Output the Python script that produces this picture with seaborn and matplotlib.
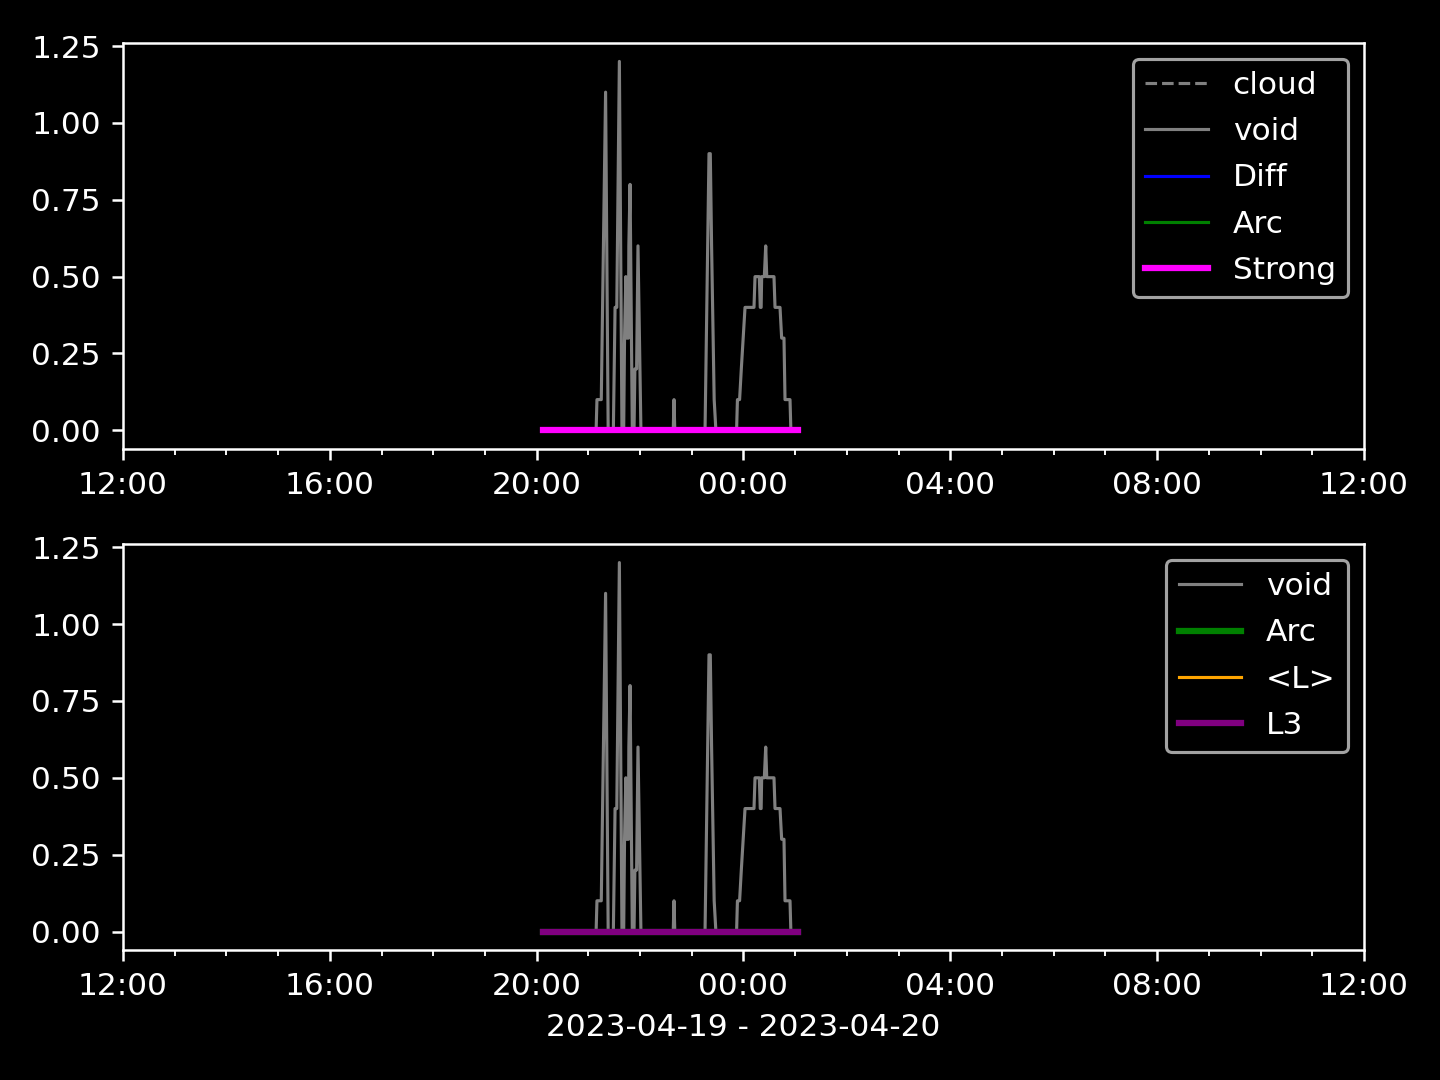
import numpy as np
import pandas as pd
import matplotlib
matplotlib.use("Agg")
import matplotlib.pyplot as plt
import matplotlib.dates as mdates
import seaborn as sns

plt.style.use('dark_background')

# minutes after 2023-04-19 20:00
void_minutes = [7.5, 69, 70, 75, 80, 83, 89, 91, 93, 96, 99,
                101, 102, 103.5, 104.5, 106.5, 107, 108.4, 111,
                113, 114, 116, 117.6, 121,
                158.5, 159.4, 160.3,
                195.4, 200, 201.5, 203, 206, 208,
                232, 233, 235.5, 237.5, 241.8, 252.2, 253.4, 258.4, 259.5, 260.5,
                261.1, 264.2, 265.8, 267, 275.4, 276.6, 282.4, 284.3, 287, 288.2,
                294, 295, 303]
void_values = [0, 0, 0.1, 0.1, 1.1, 0, 0, 0.4, 0.4, 1.2, 0,
               0, 0.3, 0.5, 0.3, 0.3, 0.6, 0.8, 0,
               0, 0.2, 0.2, 0.6, 0,
               0, 0.1, 0,
               0, 0.9, 0.9, 0.6, 0.1, 0,
               0, 0.1, 0.1, 0.2, 0.4, 0.4, 0.5, 0.5, 0.4, 0.4,
               0.5, 0.5, 0.6, 0.5, 0.5, 0.4, 0.4, 0.3, 0.3, 0.1,
               0.1, 0, 0]

# series that stay at zero over the whole run
flat_minutes = [7.5, 303]
cloud_values = [0.0, 0.0]
diff_values = [0.0, 0.0]
arc_values = [0.0, 0.0]
strong_values = [0.0, 0.0]
meanl_values = [0.0, 0.0]
l3_values = [0.0, 0.0]

start = pd.Timestamp('2023-04-19 20:00')
void_t = start + pd.to_timedelta(void_minutes, unit='m')
flat_t = start + pd.to_timedelta(flat_minutes, unit='m')

fig, (ax1, ax2) = plt.subplots(2, 1, figsize=(6.4, 4.8), dpi=225)

thin, thick = 1.0, 2.0
sns.lineplot(x=flat_t, y=cloud_values, ax=ax1, color='gray', lw=thin, linestyle='--', label='cloud')
sns.lineplot(x=void_t, y=void_values, ax=ax1, color='gray', lw=thin, label='void')
sns.lineplot(x=flat_t, y=diff_values, ax=ax1, color='blue', lw=thin, label='Diff')
sns.lineplot(x=flat_t, y=arc_values, ax=ax1, color='green', lw=thin, label='Arc')
sns.lineplot(x=flat_t, y=strong_values, ax=ax1, color='magenta', lw=thick, label='Strong')

sns.lineplot(x=void_t, y=void_values, ax=ax2, color='gray', lw=thin, label='void')
sns.lineplot(x=flat_t, y=arc_values, ax=ax2, color='green', lw=thick, label='Arc')
sns.lineplot(x=flat_t, y=meanl_values, ax=ax2, color='orange', lw=thin, label='<L>')
sns.lineplot(x=flat_t, y=l3_values, ax=ax2, color='purple', lw=thick, label='L3')

for ax in (ax1, ax2):
    ax.set_xlim(pd.Timestamp('2023-04-19 12:00'), pd.Timestamp('2023-04-20 12:00'))
    ax.xaxis.set_major_locator(mdates.HourLocator(byhour=[0, 4, 8, 12, 16, 20]))
    ax.xaxis.set_major_formatter(mdates.DateFormatter('%H:%M'))
    ax.xaxis.set_minor_locator(mdates.HourLocator())
    ax.set_ylabel('')
    ax.set_xlabel('')
    ax.legend(loc='upper right', labelspacing=0.55)

ax2.set_xlabel('2023-04-19 - 2023-04-20')
fig.subplots_adjust(left=0.0854, right=0.9472, top=0.9602, bottom=0.1204, hspace=0.235)
plt.savefig('out.png')
